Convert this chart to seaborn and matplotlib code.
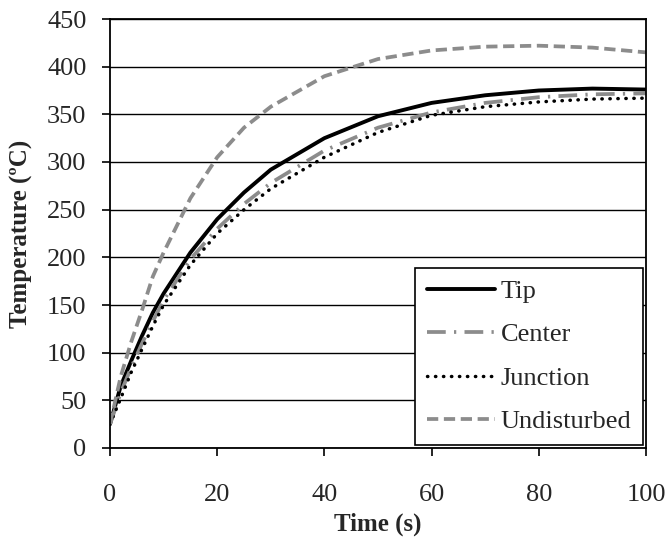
import matplotlib
matplotlib.use("Agg")
import matplotlib.pyplot as plt
import seaborn as sns
import pandas as pd

time_s = [0, 2, 4, 6, 8, 10, 15, 20, 25, 30, 40, 50, 60, 70, 80, 90, 100]
tip = [25, 65, 92, 118, 142, 162, 205, 240, 268, 292, 325, 348, 362, 370, 375, 377, 376]
center = [25, 58, 85, 110, 133, 155, 198, 230, 256, 278, 312, 336, 352, 362, 368, 371, 372]
junction = [25, 52, 80, 104, 128, 150, 192, 225, 250, 272, 305, 331, 349, 358, 363, 366, 367]
undisturbed = [25, 75, 112, 145, 180, 205, 262, 305, 336, 358, 390, 408, 417, 421, 422, 420, 415]

series_names = ["Tip", "Center", "Junction", "Undisturbed"]
series_vals = [tip, center, junction, undisturbed]

sns.set_style("white")
plt.rcParams['font.family'] = ['Liberation Serif', 'DejaVu Serif']

df = pd.concat([pd.DataFrame({"Time": time_s, "Temp": v, "Series": n})
                for n, v in zip(series_names, series_vals)], ignore_index=True)

fig = plt.figure(figsize=(6.68, 5.38), dpi=100)
ax = fig.add_axes([110/668, 1 - 448/538, 536/668, 429/538])

styles = {
    "Tip": dict(color="black", linestyle="-", lw=2.8),
    "Center": dict(color="#8c8c8c", linestyle=(0, (5, 2.2, 0.6, 2.2)), lw=2.7),
    "Junction": dict(color="black", linestyle=(0, (0.1, 2.2)), lw=2.5, dash_capstyle="round"),
    "Undisturbed": dict(color="#8c8c8c", linestyle=(0, (3.0, 1.5)), lw=2.7),
}

for n in series_names:
    sub = df[df["Series"] == n]
    st = dict(styles[n])
    dcs = st.pop("dash_capstyle", None)
    sns.lineplot(data=sub, x="Time", y="Temp", ax=ax, label=n, **st)
    if dcs:
        ax.lines[-1].set_dash_capstyle(dcs)

ax.set_xlim(0, 100)
ax.set_ylim(0, 450)
ax.set_xticks(range(0, 101, 20))
ax.set_yticks(range(0, 451, 50))
ax.yaxis.grid(True, color="black", lw=1.0)
ax.set_axisbelow(True)
for s in ax.spines.values():
    s.set_color("black")
    s.set_linewidth(1.3)
ax.tick_params(axis="both", direction="out", length=6, width=1.2, color="black",
               labelsize=19, left=True, bottom=True)
ax.tick_params(axis="x", pad=20)
ax.tick_params(axis="y", pad=11)
ax.set_xlabel("Time (s)", fontsize=18, fontweight="bold", labelpad=5)
ax.set_ylabel("Temperature (ºC)", fontsize=18, fontweight="bold", labelpad=10)

leg = ax.legend(loc="lower right", fontsize=19, frameon=True, fancybox=False,
                edgecolor="black", framealpha=1, handlelength=2.6,
                handletextpad=0.2, borderpad=0.45, labelspacing=0.76,
                borderaxespad=0.1)
leg.get_frame().set_linewidth(1.2)

fig.savefig("out.png", dpi=100)
